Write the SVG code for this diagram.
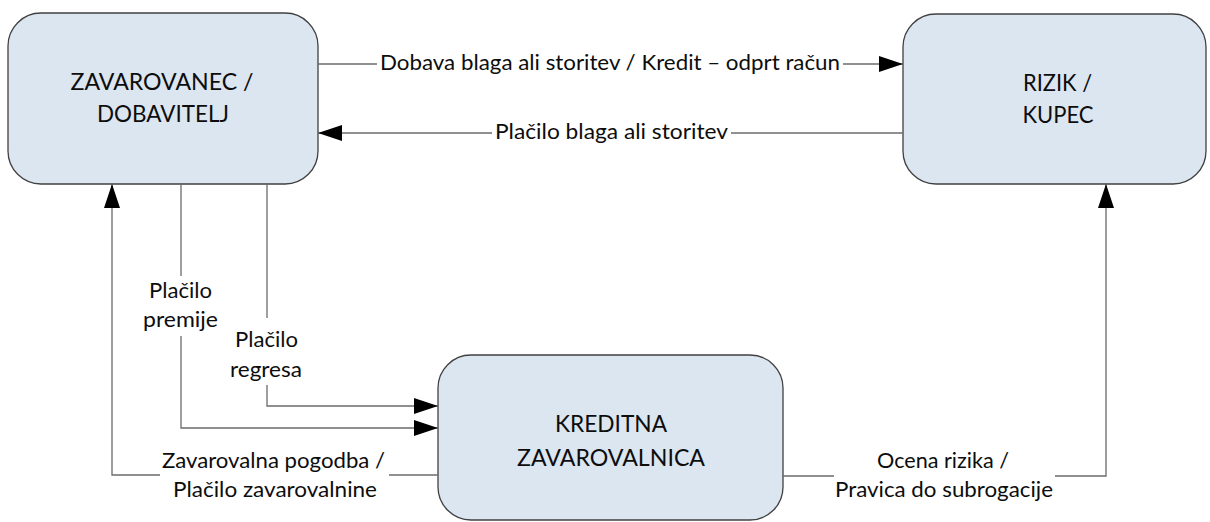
<svg xmlns="http://www.w3.org/2000/svg" width="1210" height="522" viewBox="0 0 1210 522">
  <style>
    .box { fill: #dce6f1; stroke: #404040; stroke-width: 1.3; }
    .box-label { font-family: Lato, "Liberation Sans", sans-serif; font-size: 22.5px; fill: #0d0d0d; text-anchor: middle; }
    .wire { fill: none; stroke: #6b6b6b; stroke-width: 1.3; }
    .wire-label { font-family: Lato, "Liberation Sans", sans-serif; font-size: 20.5px; fill: #0d0d0d; text-anchor: middle; }
  </style>
  <defs>
    <marker id="arrow" markerUnits="userSpaceOnUse" markerWidth="24" markerHeight="16" refX="24" refY="8" orient="auto">
      <path d="M0,0 L24,8 L0,16 z" fill="#000"/>
    </marker>
  </defs>

  <rect width="1210" height="522" fill="#fff"/>

  <!-- nodes -->
  <g id="zavarovanec">
    <rect class="box" x="8" y="13" width="310" height="171" rx="33" ry="33"/>
    <text class="box-label" x="162" y="90" textLength="183" lengthAdjust="spacingAndGlyphs">ZAVAROVANEC /</text>
    <text class="box-label" x="163" y="122" textLength="132" lengthAdjust="spacingAndGlyphs">DOBAVITELJ</text>
  </g>
  <g id="kupec">
    <rect class="box" x="903" y="14" width="303" height="170" rx="33" ry="33"/>
    <text class="box-label" x="1057.5" y="91" textLength="69" lengthAdjust="spacingAndGlyphs">RIZIK /</text>
    <text class="box-label" x="1058" y="123" textLength="71" lengthAdjust="spacingAndGlyphs">KUPEC</text>
  </g>
  <g id="zavarovalnica">
    <rect class="box" x="438" y="355" width="345" height="165" rx="33" ry="33"/>
    <text class="box-label" x="611" y="432" textLength="112" lengthAdjust="spacingAndGlyphs">KREDITNA</text>
    <text class="box-label" x="611" y="466" textLength="188" lengthAdjust="spacingAndGlyphs">ZAVAROVALNICA</text>
  </g>

  <!-- connectors -->
  <g id="connectors">
    <!-- goods / credit to the buyer -->
    <path class="wire" d="M318,64 H377"/>
    <path class="wire" d="M843,64 H903" marker-end="url(#arrow)"/>
    <!-- payment back from the buyer -->
    <path class="wire" d="M903,133 H731"/>
    <path class="wire" d="M492,133 H318" marker-end="url(#arrow)"/>
    <!-- premium payment -->
    <path class="wire" d="M181,184 V276"/>
    <path class="wire" d="M181,336 V428 H438" marker-end="url(#arrow)"/>
    <!-- recourse payment -->
    <path class="wire" d="M267,184 V318"/>
    <path class="wire" d="M267,385 V406 H438" marker-end="url(#arrow)"/>
    <!-- policy / indemnity back to the insured -->
    <path class="wire" d="M438,475 H389"/>
    <path class="wire" d="M160,475 H112 V184" marker-end="url(#arrow)"/>
    <!-- risk assessment / subrogation towards the buyer -->
    <path class="wire" d="M783,476 H834"/>
    <path class="wire" d="M1055,476 H1106 V184" marker-end="url(#arrow)"/>

    <text class="wire-label" x="610" y="70" textLength="460" lengthAdjust="spacingAndGlyphs">Dobava blaga ali storitev / Kredit – odprt račun</text>
    <text class="wire-label" x="611.5" y="139" textLength="233" lengthAdjust="spacingAndGlyphs">Plačilo blaga ali storitev</text>

    <text class="wire-label" x="180.5" y="298" textLength="63" lengthAdjust="spacingAndGlyphs">Plačilo</text>
    <text class="wire-label" x="180.5" y="327" textLength="75" lengthAdjust="spacingAndGlyphs">premije</text>

    <text class="wire-label" x="266.5" y="347" textLength="63" lengthAdjust="spacingAndGlyphs">Plačilo</text>
    <text class="wire-label" x="266" y="377" textLength="72" lengthAdjust="spacingAndGlyphs">regresa</text>

    <text class="wire-label" x="273.5" y="468" textLength="223" lengthAdjust="spacingAndGlyphs">Zavarovalna pogodba /</text>
    <text class="wire-label" x="275" y="497" textLength="204" lengthAdjust="spacingAndGlyphs">Plačilo zavarovalnine</text>

    <text class="wire-label" x="943" y="468" textLength="132" lengthAdjust="spacingAndGlyphs">Ocena rizika /</text>
    <text class="wire-label" x="944" y="497" textLength="218" lengthAdjust="spacingAndGlyphs">Pravica do subrogacije</text>
  </g>
</svg>
